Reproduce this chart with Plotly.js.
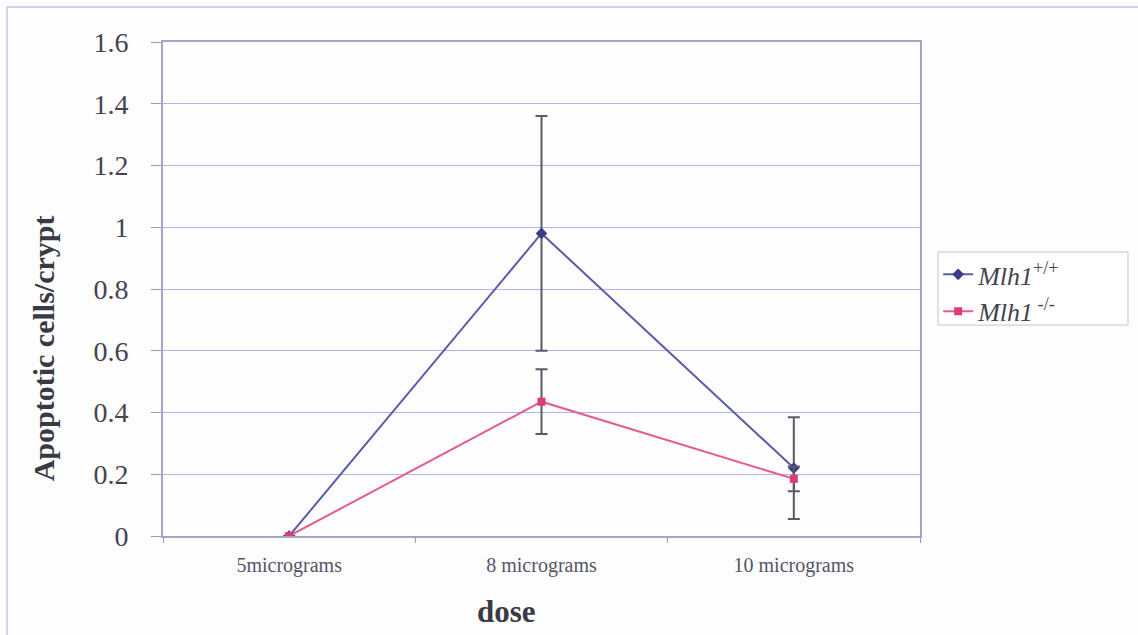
<!DOCTYPE html>
<html>
<head>
<meta charset="utf-8">
<script src="https://cdn.plot.ly/plotly-3.0.1.min.js"></script>
<style>html,body{margin:0;padding:0;background:#fdfdfe;}#chart{width:1138px;height:635px;}</style>
</head>
<body>
<div id="chart"></div>
<script>
const doses = ["5micrograms", "8 micrograms", "10 micrograms"];
const wildType = [0, 0.98, 0.22];
const wildTypeErr = [0, 0.38, 0.165];
const knockout = [0, 0.435, 0.185];
const knockoutErr = [0, 0.105, 0.04];
const seriesNames = ["<i>Mlh1</i><sup>+/+</sup>", "<i>Mlh1</i><sup> -/-</sup>"];
const yTicks = [0, 0.2, 0.4, 0.6, 0.8, 1, 1.2, 1.4, 1.6];
const yTitle = "Apoptotic cells/crypt";
const xTitle = "dose";

const serif = "Liberation Serif, Times New Roman, serif";

const traces = [
  {
    x: doses, y: wildType, name: seriesNames[0], type: "scatter", mode: "lines+markers",
    line: {color: "#5b5ba8", width: 2},
    marker: {symbol: "diamond", size: 9, color: "#3c3c8c"},
    error_y: {type: "data", array: wildTypeErr, visible: true, color: "#5a5a66", thickness: 2, width: 6}
  },
  {
    x: doses, y: knockout, name: seriesNames[1], type: "scatter", mode: "lines+markers",
    line: {color: "#e65a94", width: 2},
    marker: {symbol: "square", size: 8, color: "#dc3c7c"},
    error_y: {type: "data", array: knockoutErr, visible: true, color: "#5a5a66", thickness: 2, width: 6}
  }
];

const layout = {
  width: 1138, height: 635,
  margin: {l: 163, r: 218, t: 42, b: 99},
  paper_bgcolor: "#fdfdfe",
  plot_bgcolor: "#fdfdfe",
  showlegend: true,
  font: {family: serif, color: "#444"},
  xaxis: {
    type: "category",
    range: [-0.5, 2.5],
    showgrid: false,
    showline: true, mirror: true, linecolor: "#a4a4c4", linewidth: 2,
    ticks: "outside", tickson: "boundaries", ticklen: 5, tickcolor: "#9a9ab4",
    ticklabelstandoff: 10,
    tickfont: {family: serif, size: 20, color: "#555566"},
    zeroline: false, fixedrange: true
  },
  yaxis: {
    range: [0, 1.6],
    tickvals: yTicks,
    ticktext: yTicks.map(String),
    showgrid: true, gridcolor: "#b4b4e6", gridwidth: 1,
    showline: true, mirror: true, linecolor: "#a4a4c4", linewidth: 2,
    ticks: "outside", ticklen: 10, tickcolor: "#9a9ab4",
    ticklabelstandoff: 17,
    tickfont: {family: serif, size: 28, color: "#444450"},
    zeroline: false, fixedrange: true
  },
  legend: {
    x: 1.024, xanchor: "left", y: 0.577, yanchor: "top",
    bgcolor: "rgba(0,0,0,0)", borderwidth: 0,
    font: {family: serif, size: 26, color: "#444450"},
    tracegroupgap: 0
  },
  annotations: [
    {text: "<b>" + yTitle + "</b>", xref: "paper", yref: "paper", x: -0.1585, y: 0.38,
     xanchor: "center", yanchor: "middle", textangle: -90, showarrow: false,
     font: {family: serif, size: 30, color: "#3a3a44"}},
    {text: "<b>" + xTitle + "</b>", xref: "paper", yref: "paper", x: 0.4544, y: -0.152,
     xanchor: "center", yanchor: "middle", showarrow: false,
     font: {family: serif, size: 31, color: "#3a3a44"}}
  ],
  shapes: [
    {type: "rect", xref: "paper", yref: "paper", x0: -0.206, x1: 1.4, y0: -0.4, y1: 1.071,
     line: {color: "#c4c4e4", width: 1.5}, fillcolor: "rgba(0,0,0,0)", layer: "below"},
    {type: "rect", xref: "paper", yref: "paper", x0: 1.0238, x1: 1.2748, y0: 0.427, y1: 0.5749,
     line: {color: "#c4c4dc", width: 1}, fillcolor: "#ffffff", layer: "below"}
  ]
};

Plotly.newPlot("chart", traces, layout, {displayModeBar: false, staticPlot: true});
</script>
</body>
</html>
